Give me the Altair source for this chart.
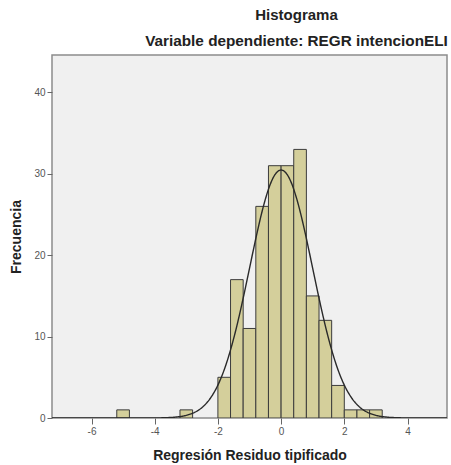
import altair as alt
import pandas as pd

# Histogram bins (bin start, bin end, frequency)
bin_start = [-5.2, -3.2, -2.0, -1.6, -1.2, -0.8, -0.4, 0.0, 0.4, 0.8, 1.2, 1.6, 2.0, 2.4, 2.8]
bin_end   = [-4.8, -2.8, -1.6, -1.2, -0.8, -0.4, 0.0, 0.4, 0.8, 1.2, 1.6, 2.0, 2.4, 2.8, 3.2]
counts    = [1, 1, 5, 17, 11, 26, 31, 31, 33, 15, 12, 4, 1, 1, 1]

# Fitted normal curve parameters
n_obs = 190
bin_width = 0.4
mu = 0.0
sigma = 0.995

x_ticks = [-6, -4, -2, 0, 2, 4]
y_ticks = [0, 10, 20, 30, 40]
x_domain = [-7.25, 5.25]
y_domain = [0, 44.6]

FONT = "Liberation Sans"

hist_df = pd.DataFrame({"start": bin_start, "end": bin_end, "count": counts})

xscale = alt.Scale(domain=x_domain, nice=False, zero=False)
yscale = alt.Scale(domain=y_domain, nice=False)

bars = alt.Chart(hist_df).mark_rect(
    color="#D4CF9B", stroke="#3C3C3C", strokeWidth=1, clip=True
).encode(
    x=alt.X("start:Q", scale=xscale,
            axis=alt.Axis(values=x_ticks, title="Regresión Residuo tipificado",
                          labelExpr="'' + datum.value")),
    x2="end:Q",
    y=alt.Y("count:Q", scale=yscale,
            axis=alt.Axis(values=y_ticks, title="Frecuencia",
                          labelExpr="'' + datum.value")),
    y2=alt.datum(0),
)

curve = alt.Chart(alt.sequence(x_domain[0], x_domain[1] + 0.01, 0.025, as_="x")).transform_calculate(
    y=f"{n_obs * bin_width} / ({sigma} * sqrt(2 * PI)) * exp(-0.5 * pow((datum.x - {mu}) / {sigma}, 2))"
).mark_line(color="#2A2A2A", strokeWidth=1.4, clip=True).encode(
    x=alt.X("x:Q", scale=xscale),
    y=alt.Y("y:Q", scale=yscale),
)

chart = alt.layer(bars, curve).properties(
    width=395,
    height=363,
    autosize=alt.AutoSizeParams(type="none"),
    padding={"left": 52, "top": 55, "right": 4, "bottom": 47},
    background="white",
    title=alt.TitleParams(
        text="Histograma",
        subtitle="Variable dependiente: REGR intencionELI",
        font=FONT, fontSize=15, fontWeight="bold", color="#222222",
        subtitleFont=FONT, subtitleFontSize=15.3, subtitleFontWeight="bold",
        subtitleColor="#222222",
        anchor="middle", dx=47, offset=6, subtitlePadding=11,
    ),
).configure_view(
    fill="#F0F0F0", stroke="#8C8C8C", strokeWidth=1.5
).configure_axis(
    grid=False,
    domain=False,
    tickColor="#666666", tickSize=5, tickWidth=1,
    labelColor="#555555", labelFont=FONT, labelFontSize=10, labelPadding=2,
    titleFont=FONT, titleFontSize=14, titleFontWeight="bold", titleColor="#222222",
).configure_axisX(
    titlePadding=12, tickSize=6,
).configure_axisY(
    titlePadding=10,
)

chart.save("out.html", embed_options={"renderer": "svg", "actions": False})
